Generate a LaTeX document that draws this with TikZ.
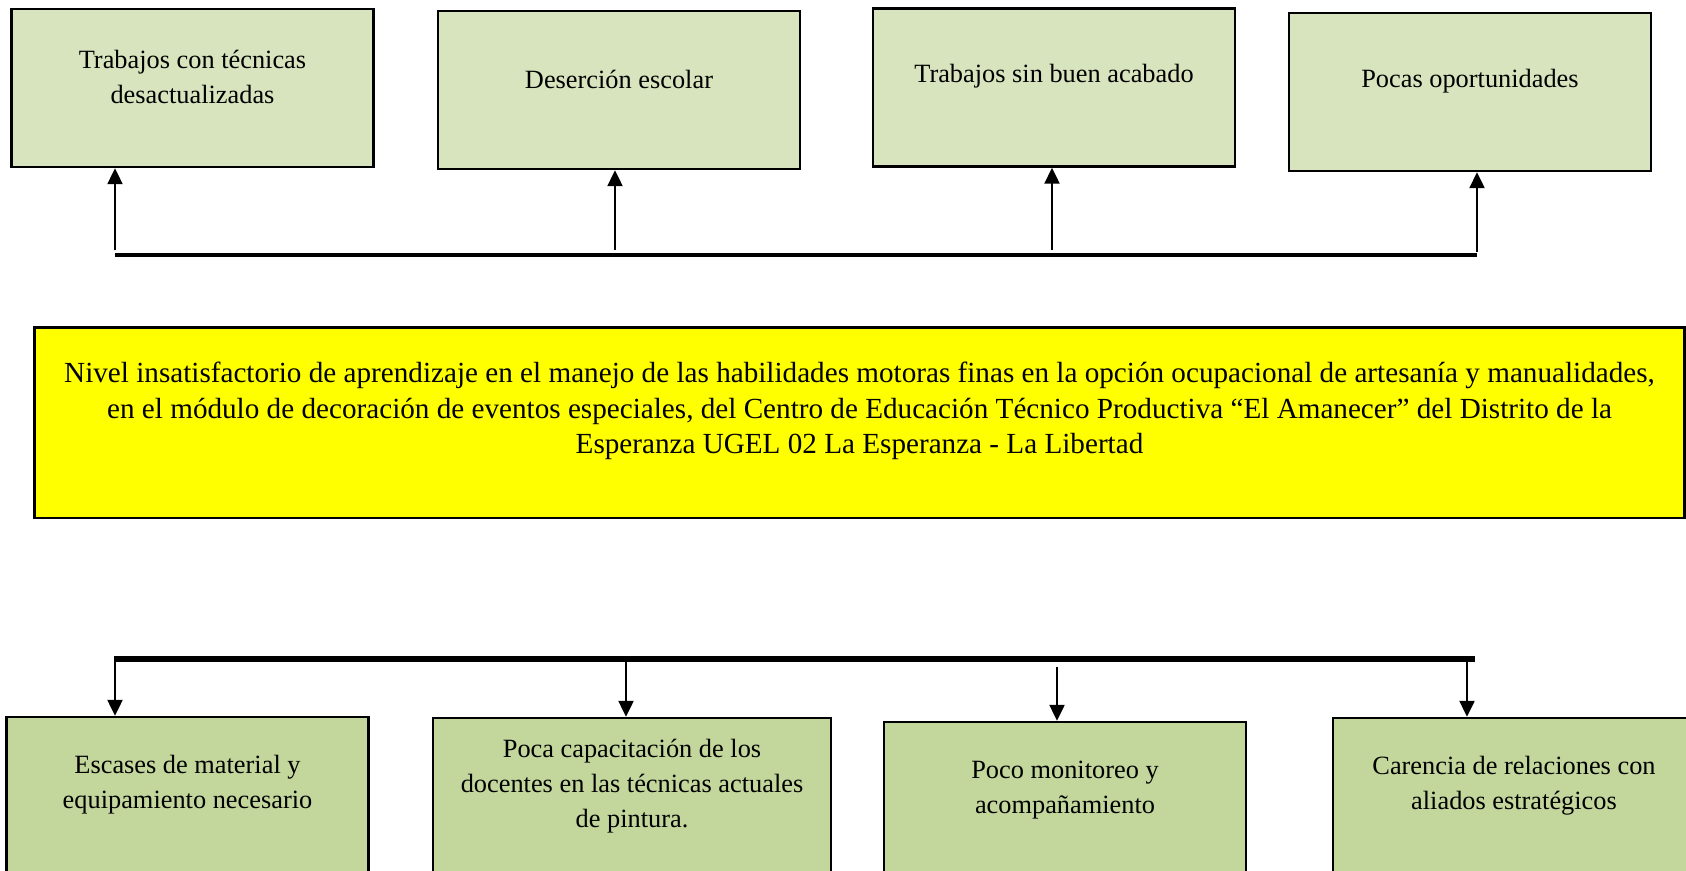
\documentclass[tikz,border=0pt]{standalone}
\usepackage{fontspec}
\setmainfont{Liberation Serif}
\usetikzlibrary{arrows.meta,positioning}
\definecolor{efverde}{HTML}{D7E4BD}
\definecolor{caverde}{HTML}{C3D69B}
\definecolor{pbamarillo}{HTML}{FFFF00}
\tikzset{
  efecto/.style={draw=black, fill=efverde, line width=1.4pt, minimum width=7.24cm, minimum height=3.16cm,
    text width=7.0cm, align=flush center, inner sep=0pt, font=\fontsize{15}{20}\selectfont,
    execute at end node={\par\vspace*{0.44cm}}},
  causa/.style={efecto, fill=caverde},
  problema/.style={draw=black, fill=pbamarillo, line width=1.7pt, minimum width=33.02cm, minimum height=3.82cm,
    text width=32.9cm, align=flush center, inner sep=0pt, font=\fontsize{16.6}{20.2}\selectfont,
    execute at end node={\par\vspace*{0.45cm}}},
  flecha/.style={-{Triangle[length=0.32cm, width=0.3cm]}, line width=1.3pt},
  barra/.style={line width=2.3pt},
  barragruesa/.style={line width=3.4pt},
}
\begin{document}
\begin{tikzpicture}[x=0.02cm, y=-0.02cm]
\useasboundingbox (0,0) rectangle (1686,870);
\clip (0,0) rectangle (1686,870);

% efectos
\node[efecto] (e1) at (192.5,88) {Trabajos con técnicas\\desactualizadas};
\node[efecto] (e2) at (619,90) {Deserción escolar};
\node[efecto] (e3) at (1054,87.5) {Trabajos sin buen acabado};
\node[efecto] (e4) at (1470,92) {Pocas oportunidades};

% problema central
\node[problema] (pc) at (859.5,422.5) {Nivel insatisfactorio de aprendizaje en el manejo de las habilidades motoras finas en la opción ocupacional de artesanía y manualidades,\\
en el módulo de decoración de eventos especiales, del Centro de Educación Técnico Productiva “El Amanecer” del Distrito de la\\
Esperanza UGEL 02 La Esperanza - La Libertad};

% causas
\node[causa] (c1) at (187.5,796) {Escases de material y\\equipamiento necesario};
\node[causa, minimum width=7.96cm, text width=7.6cm] (c2) at (632,797) {Poca capacitación de los\\docentes en las técnicas actuales\\de pintura.};
\node[causa] (c3) at (1065,801) {Poco monitoreo y\\acompañamiento};
\node[causa] (c4) at (1514,797) {Carencia de relaciones con\\aliados estratégicos};

\coordinate (ti) at (115,255);
\coordinate (td) at (1477,255);
\coordinate (te1) at (115,250);
\coordinate (te2) at (615,250);
\coordinate (te3) at (1052,250);
\coordinate (te4) at (1477,252);
\draw[barra] (ti) -- (td);
\foreach \a in {1,2,3,4} \draw[flecha] (te\a) -- (te\a |- e\a.south);

\coordinate (bi) at (114,659);
\coordinate (bd) at (1475,659);
\coordinate (tc1) at (115,657);
\coordinate (tc2) at (626,657);
\coordinate (tc3) at (1057,667);
\coordinate (tc4) at (1467,657);
\draw[barragruesa] (bi) -- (bd);
\foreach \a in {1,2,3,4} \draw[flecha] (tc\a) -- (tc\a |- c\a.north);
\end{tikzpicture}
\end{document}
